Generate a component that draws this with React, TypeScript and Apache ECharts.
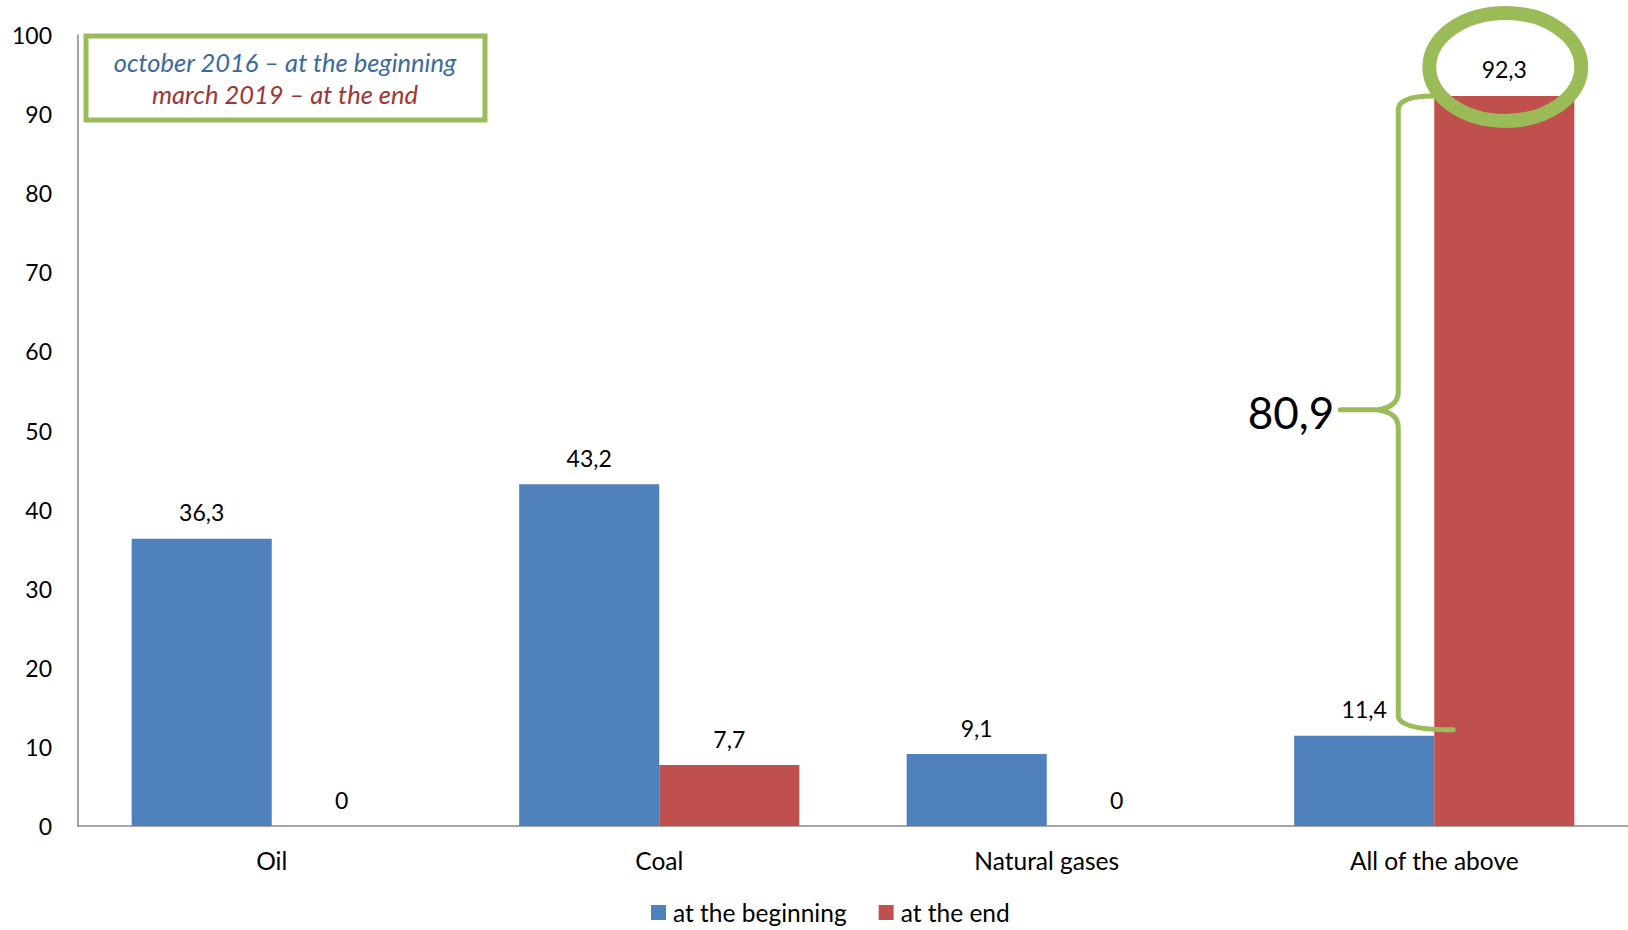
import React, { useEffect, useRef } from "react";
import * as echarts from "echarts";

const categories = ["Oil", "Coal", "Natural gases", "All of the above"];
const beginningValues = [36.3, 43.2, 9.1, 11.4];
const endValues = [0, 7.7, 0, 92.3];
const seriesNames = ["at the beginning", "at the end"];
const noteLines = ["october 2016 – at the beginning", "march 2019 – at the end"];
const differenceLabel = "80,9";
const yMin = 0;
const yMax = 100;
const yInterval = 10;

const FONT = "Lato, 'Open Sans', sans-serif";
const GREEN = "#9BBB59";
const BLUE = "#4F81BD";
const RED = "#C0504D";

const fmt = (v: number) => String(v).replace(".", ",");

export default function App() {
  const ref = useRef<HTMLDivElement>(null);

  useEffect(() => {
    if (!ref.current) return;
    const chart = echarts.init(ref.current, undefined, { renderer: "svg" });
    const label = {
      show: true,
      position: "top",
      distance: 15,
      color: "#000",
      fontFamily: FONT,
      fontSize: 23,
      formatter: (p: any) => fmt(p.value),
    };
    chart.setOption({
      animation: false,
      backgroundColor: "#fff",
      grid: { left: 78, right: 0, top: 35, bottom: 104, containLabel: false },
      legend: {
        left: 651,
        top: 900,
        padding: 0,
        itemWidth: 15,
        itemHeight: 15,
        itemGap: 32,
        icon: "rect",
        textStyle: { fontFamily: FONT, fontSize: 24.5, color: "#000", padding: [0, 0, 0, 2] },
        data: seriesNames,
      },
      xAxis: {
        type: "category",
        data: categories,
        axisLine: { lineStyle: { color: "#898989", width: 1.5 } },
        axisTick: { show: false },
        axisLabel: { color: "#000", fontFamily: FONT, fontSize: 24.5, margin: 22 },
      },
      yAxis: {
        type: "value",
        min: yMin,
        max: yMax,
        interval: yInterval,
        axisLine: { show: true, lineStyle: { color: "#898989", width: 1.5 } },
        axisTick: { show: false },
        splitLine: { show: false },
        axisLabel: { color: "#000", fontFamily: FONT, fontSize: 23, margin: 26 },
      },
      series: [
        {
          name: seriesNames[0],
          type: "bar",
          data: beginningValues,
          itemStyle: { color: BLUE },
          barGap: "0%",
          barCategoryGap: "27.7%",
          label,
        },
        {
          name: seriesNames[1],
          type: "bar",
          data: endValues,
          itemStyle: { color: RED },
          barGap: "0%",
          barCategoryGap: "27.7%",
          label,
        },
      ],
    });

    const last = categories.length - 1;
    const [c0] = chart.convertToPixel({ gridIndex: 0 }, [0, 0]) as number[];
    const [c1] = chart.convertToPixel({ gridIndex: 0 }, [1, 0]) as number[];
    const catW = c1 - c0;
    const barW = (catW * (1 - 0.277)) / 2;
    const [cx, yTop] = chart.convertToPixel({ gridIndex: 0 }, [last, endValues[last]]) as number[];
    const [, yLow] = chart.convertToPixel({ gridIndex: 0 }, [last, beginningValues[last]]) as number[];
    const redCenter = cx + barW / 2;
    const vx = cx - 36;
    const top = yTop;
    const bot = yLow - 6;
    const mid = (top + bot) / 2 - 3;

    const d =
      `M ${vx + 35} ${top} Q ${vx} ${top} ${vx} ${top + 14} ` +
      `L ${vx} ${mid - 18} Q ${vx} ${mid - 2} ${vx - 22} ${mid} L ${vx - 58} ${mid} ` +
      `M ${vx - 22} ${mid} Q ${vx} ${mid + 2} ${vx} ${mid + 18} ` +
      `L ${vx} ${bot - 14} Q ${vx} ${bot} ${vx + 55} ${bot}`;
    echarts.graphic.registerShape("brace", echarts.graphic.extendPath(d, {}) as any);

    chart.setOption({
      graphic: [
        {
          type: "rect",
          z: 100,
          shape: { x: 86, y: 36, width: 399, height: 84 },
          style: { fill: "#fff", stroke: GREEN, lineWidth: 5 },
        },
        {
          type: "text",
          z: 101,
          x: 285,
          y: 62,
          style: {
            text: noteLines[0],
            fill: "#3B6AA0",
            font: `italic 25.5px ${FONT}`,
            align: "center",
            verticalAlign: "middle",
          },
        },
        {
          type: "text",
          z: 101,
          x: 285,
          y: 94,
          style: {
            text: noteLines[1],
            fill: "#A03535",
            font: `italic 25.5px ${FONT}`,
            align: "center",
            verticalAlign: "middle",
          },
        },
        {
          type: "brace",
          z: 100,
          x: 0,
          y: 0,
          scaleX: 1,
          scaleY: 1,
          style: { fill: "none", stroke: GREEN, lineWidth: 5, lineCap: "round", lineJoin: "round" },
        },
        {
          type: "ellipse",
          z: 102,
          shape: { cx: redCenter + 1, cy: top - 29, rx: 76, ry: 54 },
          style: { fill: "none", stroke: GREEN, lineWidth: 14 },
        },
        {
          type: "text",
          z: 101,
          x: vx - 64,
          y: mid + 2,
          style: {
            text: differenceLabel,
            fill: "#000",
            font: `44px ${FONT}`,
            align: "right",
            verticalAlign: "middle",
          },
        },
      ],
    });

    return () => chart.dispose();
  }, []);

  return (
    <div
      ref={ref}
      style={{ position: "fixed", left: 0, top: 0, width: 1628, height: 930, background: "#fff" }}
    />
  );
}
